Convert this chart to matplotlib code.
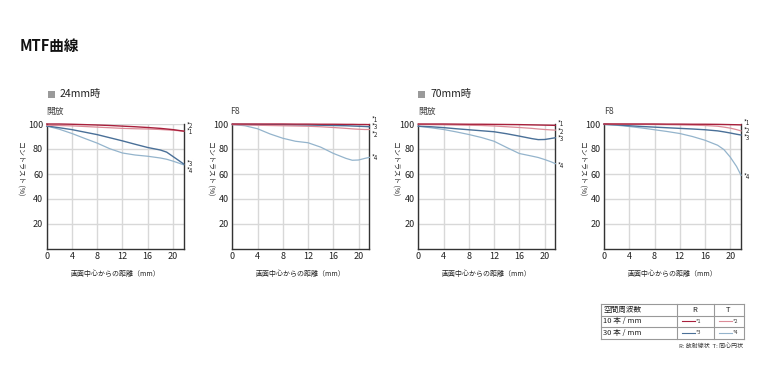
import matplotlib
matplotlib.use("Agg")
import matplotlib.pyplot as plt
from matplotlib.lines import Line2D
from matplotlib.patches import Rectangle

plt.rcParams['font.family'] = ['Noto Sans CJK JP', 'DejaVu Sans']

W, H = 780, 381

# image height position (mm from centre)
X = [0, 2, 4, 6, 8, 10, 12, 14, 16, 18, 19, 20, 21, 21.7]

# 24mm, wide open
W_OPEN_1 = [100, 100, 99.8, 99.5, 99.2, 98.8, 98.3, 97.8, 97.2, 96.5, 96, 95.5, 94.8, 94.3]
W_OPEN_2 = [99, 98.8, 98.5, 98, 97.5, 97, 96.5, 96.2, 96, 95.6, 95.3, 95, 94.6, 94.3]
W_OPEN_3 = [98.4, 97, 95.5, 93.5, 91.5, 89, 86.5, 83.8, 81.2, 79.2, 77.5, 74, 70.5, 68]
W_OPEN_4 = [98.4, 95.8, 92.4, 88.5, 84.7, 80.2, 76.8, 75.2, 74.2, 72.8, 71.8, 70.3, 68.6, 67.3]

# 24mm, F8
W_F8_1 = [100, 100, 100, 100, 100, 99.9, 99.9, 99.8, 99.8, 99.7, 99.7, 99.6, 99.6, 99.5]
W_F8_2 = [99.5, 99.3, 99, 98.8, 98.6, 98.4, 98.2, 97.8, 97.2, 96.5, 96.1, 95.8, 95.6, 95.6]
W_F8_3 = [99.7, 99.6, 99.5, 99.4, 99.3, 99.2, 99.1, 99, 98.8, 98.6, 98.4, 98.2, 98, 97.8]
W_F8_4 = [99.6, 98.6, 96.2, 92, 88.6, 86.2, 85, 81.5, 76.5, 72.5, 71, 71.2, 72.5, 73.3]

# 70mm, wide open
T_OPEN_1 = [100, 100, 100, 99.9, 99.8, 99.8, 99.7, 99.6, 99.5, 99.3, 99.2, 99.1, 99, 98.9]
T_OPEN_2 = [99.6, 99.5, 99.4, 99.2, 99, 98.8, 98.4, 97.8, 97.2, 96.5, 96, 95.6, 95.3, 95.1]
T_OPEN_3 = [98.2, 97.8, 97.1, 96.2, 95.4, 94.6, 93.8, 92.2, 90.3, 88.3, 87.5, 87.6, 88.4, 89]
T_OPEN_4 = [98.2, 97, 95.6, 93.7, 91.6, 89.2, 86.2, 81.2, 76.4, 74.3, 73.2, 71.6, 69.8, 68.3]

# 70mm, F8
T_F8_1 = [100, 100, 100, 100, 100, 99.9, 99.9, 99.8, 99.8, 99.7, 99.6, 99.5, 99.4, 99.3]
T_F8_2 = [100, 99.9, 99.8, 99.7, 99.6, 99.5, 99.3, 99.1, 98.8, 98.2, 97.5, 96.7, 95.5, 94.5]
T_F8_3 = [99.8, 99.3, 98.6, 98, 97.5, 97, 96.5, 96, 95.4, 94.5, 93.7, 92.8, 91.8, 91.2]
T_F8_4 = [99.6, 99, 98, 96.8, 95.4, 94, 92.4, 90, 87, 83, 79.5, 73.5, 66, 59]

X_TICKS = [0, 4, 8, 12, 16, 20]
Y_TICKS = [20, 40, 60, 80, 100]

COLORS = {1: '#a8203c', 2: '#dc8c98', 3: '#4a7098', 4: '#94b4cc'}
WIDTHS = {1: 1.0, 2: 0.9, 3: 1.0, 4: 0.9}

# left edge px, series, right-hand label y positions, y-label x offset (axes)
panels = [
    (46.7, [W_OPEN_1, W_OPEN_2, W_OPEN_3, W_OPEN_4], {2: 98.4, 1: 93.2, 3: 68, 4: 62.5}, -0.195),
    (232.3, [W_F8_1, W_F8_2, W_F8_3, W_F8_4], {1: 103.5, 3: 97.5, 2: 91.5, 4: 73}, -0.163),
    (418.3, [T_OPEN_1, T_OPEN_2, T_OPEN_3, T_OPEN_4], {1: 100.0, 2: 94.0, 3: 88.0, 4: 66.2}, -0.17),
    (604.0, [T_F8_1, T_F8_2, T_F8_3, T_F8_4], {1: 100.5, 2: 94.5, 3: 88.5, 4: 57.5}, -0.16),
]

fig = plt.figure(figsize=(W / 100, H / 100), dpi=100)
fig.patch.set_facecolor('white')

ax_top, ax_bot = 124.0, 249.0
for left, series, lab_y, ylab_x in panels:
    ax = fig.add_axes([left / W, 1 - ax_bot / H, 137 / W, (ax_bot - ax_top) / H])
    ax.set_xlim(0, 21.7)
    ax.set_ylim(0, 100)
    ax.set_xticks(X_TICKS)
    ax.set_yticks(Y_TICKS)
    ax.tick_params(length=0, labelsize=6.5, colors='#222222', pad=2.5)
    ax.grid(True, color='#d8d8d8', linewidth=1.0)
    ax.set_axisbelow(True)
    for s in ['left', 'bottom', 'right']:
        ax.spines[s].set_color('#333333')
        ax.spines[s].set_linewidth(1.0)
    ax.spines['top'].set_visible(False)
    # draw lighter tangential curves first, then radial
    for idx in [4, 3, 2, 1]:
        ax.plot(X, series[idx - 1], color=COLORS[idx], linewidth=WIDTHS[idx],
                clip_on=False, zorder=3 + (4 - idx) * 0.1)
    for idx, yv in lab_y.items():
        ax.text(1.02, yv / 100, f"*{idx}", transform=ax.transAxes, fontsize=4.4,
                va='center', ha='left', color='#222222')
    ax.set_xlabel("画面中心からの距離（mm）", fontsize=5, color='#222222', labelpad=6)
    ax.text(ylab_x, 0.65, "コントラスト (%)", transform=ax.transAxes, rotation=270,
            fontsize=5, va='center', ha='center', color='#222222')

# headings
fig.text(20 / W, 1 - 46 / H, "MTF曲線", fontsize=10.5, fontweight='bold', va='center', ha='left',
         color='#111111')
for x0, label in [(48, "24mm時"), (418, "70mm時")]:
    fig.patches.append(Rectangle((x0 / W, 1 - 98 / H), 7 / W, 7 / H, transform=fig.transFigure,
                                 facecolor='#9a9a9a', edgecolor='none'))
    fig.text((x0 + 12) / W, 1 - 94 / H, label, fontsize=7.5, va='center', ha='left', color='#222222')
for x0, label in [(46, "開放"), (230, "F8"), (418, "開放"), (604, "F8")]:
    fig.text(x0 / W, 1 - 111 / H, label, fontsize=6.3, va='center', ha='left', color='#444444')

# legend table
tab = fig.add_axes([0, 0, 1, 1])
tab.set_xlim(0, W)
tab.set_ylim(H, 0)
tab.axis('off')
tl, tr, tt, tb = 600.5, 743.5, 304, 338.5
rows = [tt, 315.5, 327, tb]
cols = [tl, 676.5, 713.5, tr]
for y in rows:
    tab.add_line(Line2D([tl, tr], [y, y], color='#999999', linewidth=0.8))
for x in cols:
    tab.add_line(Line2D([x, x], [tt, tb], color='#999999', linewidth=0.8))
tab.text(603, 309.8, "空間周波数", fontsize=5.5, va='center', ha='left', color='#222222')
tab.text(695, 309.8, "R", fontsize=5.5, va='center', ha='center', color='#222222')
tab.text(728.5, 309.8, "T", fontsize=5.5, va='center', ha='center', color='#222222')
tab.text(603, 321.3, "10 本 / mm", fontsize=5.5, va='center', ha='left', color='#222222')
tab.text(603, 332.7, "30 本 / mm", fontsize=5.5, va='center', ha='left', color='#222222')
for idx, (x0, y0) in {1: (682, 321.3), 2: (719, 321.3), 3: (682, 332.7), 4: (719, 332.7)}.items():
    tab.add_line(Line2D([x0, x0 + 12.5], [y0, y0], color=COLORS[idx], linewidth=0.8))
    tab.text(x0 + 14, y0, f"*{idx}", fontsize=3.8, va='center', ha='left', color='#333333')
tab.text(743, 346.5, "R: 放射線状  T: 同心円状", fontsize=4.3, va='center', ha='right', color='#333333')

fig.savefig("out.png", dpi=100)
